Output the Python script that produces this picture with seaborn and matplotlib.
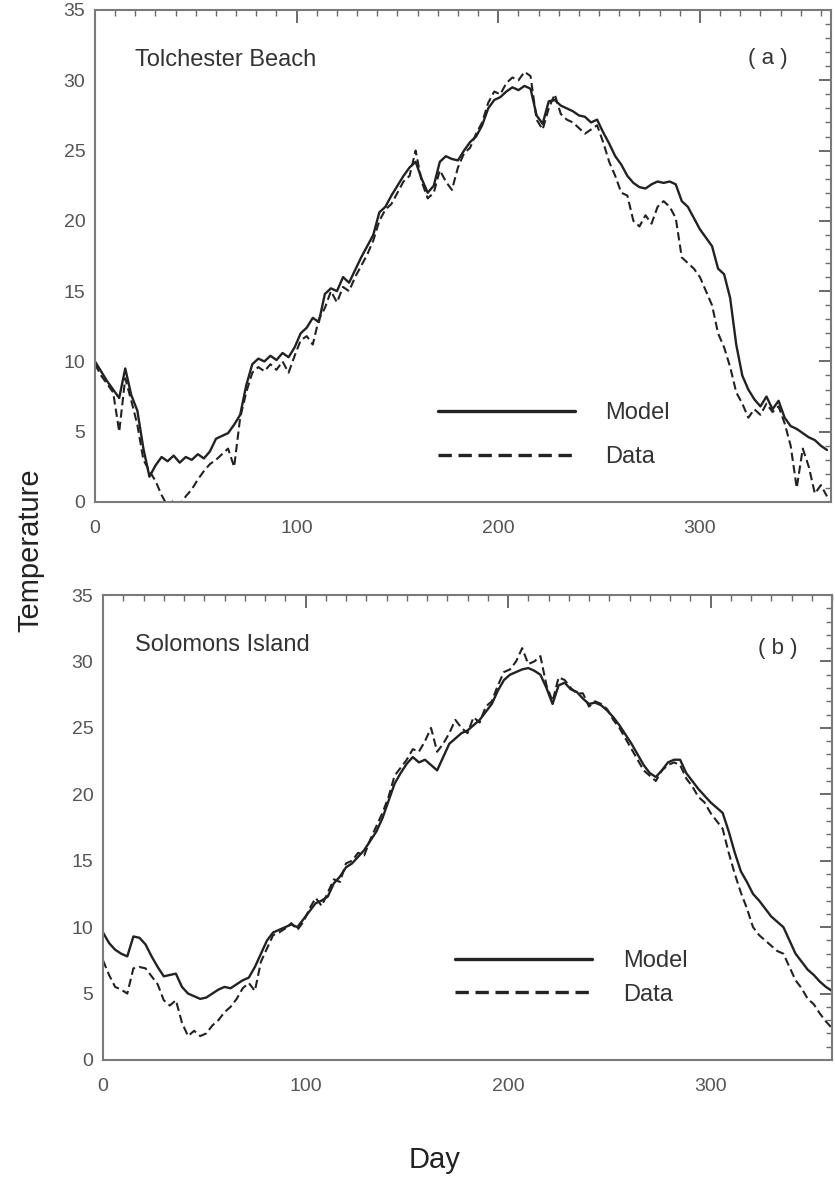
import numpy as np
import matplotlib
matplotlib.use("Agg")
import matplotlib.pyplot as plt
import seaborn as sns
from matplotlib.ticker import MultipleLocator

sns.set_style("white")
plt.rcParams['font.family'] = ['Liberation Sans', 'DejaVu Sans']

# ---------------- data (3-day sampling) ----------------
step_days = 3

tol_model = [10.0, 9.3, 8.6, 8.0, 7.4, 9.5, 7.6, 6.5, 3.8, 1.8,
             2.6, 3.2, 2.9, 3.3, 2.8, 3.2, 3.0, 3.4, 3.1, 3.6,
             4.5, 4.7, 4.9, 5.5, 6.2, 8.3, 9.8, 10.2, 10.0, 10.4,
             10.1, 10.6, 10.3, 11.0, 12.0, 12.4, 13.1, 12.8, 14.8, 15.2,
             15.0, 16.0, 15.6, 16.5, 17.4, 18.2, 19.0, 20.6, 21.0, 21.8,
             22.5, 23.2, 23.8, 24.2, 23.0, 22.0, 22.5, 24.2, 24.6, 24.4,
             24.3, 25.0, 25.6, 26.0, 26.8, 28.0, 28.6, 28.8, 29.2, 29.5,
             29.3, 29.6, 29.4, 27.5, 26.9, 28.5, 28.6, 28.2, 28.0, 27.8,
             27.5, 27.4, 27.0, 27.2, 26.3, 25.5, 24.6, 24.0, 23.2, 22.7,
             22.4, 22.3, 22.6, 22.8, 22.7, 22.8, 22.6, 21.4, 21.0, 20.2,
             19.4, 18.8, 18.2, 16.6, 16.2, 14.5, 11.2, 9.0, 8.0, 7.3,
             6.8, 7.5, 6.6, 7.2, 6.0, 5.4, 5.2, 4.9, 4.6, 4.4,
             4.0, 3.7]

tol_data = [9.8, 9.0, 8.4, 7.8, 5.0, 8.8, 7.2, 5.5, 3.0, 2.2,
            1.5, 0.5, -0.3, 0.1, -0.2, 0.4, 0.9, 1.6, 2.2, 2.7,
            3.0, 3.4, 3.8, 2.5, 6.0, 7.8, 9.2, 9.6, 9.3, 9.8,
            9.4, 10.0, 9.2, 10.4, 11.5, 11.8, 11.2, 13.0, 13.8, 15.0,
            14.2, 15.3, 15.0, 16.0, 16.8, 17.6, 18.6, 20.0, 20.8, 21.2,
            22.0, 22.8, 23.2, 25.0, 22.8, 21.6, 22.0, 23.6, 22.8, 22.2,
            23.8, 24.8, 25.2, 26.2, 27.0, 28.4, 29.2, 29.0, 29.8, 30.2,
            30.0, 30.6, 30.3, 27.2, 26.5, 28.0, 29.0, 27.6, 27.2, 27.0,
            26.6, 26.2, 26.5, 26.8, 25.6, 24.2, 23.2, 22.0, 21.8, 20.0,
            19.6, 20.4, 19.8, 21.0, 21.4, 21.0, 20.2, 17.4, 17.0, 16.6,
            16.0, 15.0, 14.0, 12.0, 11.0, 9.6, 7.8, 7.0, 6.0, 6.6,
            6.2, 7.0, 6.4, 6.8, 5.6, 4.0, 1.0, 3.8, 2.5, 0.6,
            1.2, 0.4]

sol_model = [9.6, 8.8, 8.3, 8.0, 7.8, 9.3, 9.2, 8.7, 7.8, 7.0,
             6.3, 6.4, 6.5, 5.5, 5.0, 4.8, 4.6, 4.7, 5.0, 5.3,
             5.5, 5.4, 5.7, 6.0, 6.2, 7.0, 8.0, 9.0, 9.6, 9.8,
             10.0, 10.2, 10.0, 10.6, 11.2, 11.8, 12.0, 12.3, 13.3, 13.8,
             14.5, 14.8, 15.3, 15.8, 16.5, 17.2, 18.2, 19.5, 20.8, 21.6,
             22.3, 22.8, 22.4, 22.6, 22.2, 21.8, 22.8, 23.8, 24.2, 24.6,
             24.8, 25.2, 25.6, 26.2, 26.8, 27.8, 28.6, 29.0, 29.2, 29.4,
             29.5, 29.3, 29.0, 28.0, 26.8, 28.2, 28.4, 27.9, 27.7, 27.2,
             26.8, 26.9, 26.7, 26.3, 25.8, 25.2, 24.5, 23.8, 23.0, 22.2,
             21.6, 21.3, 21.8, 22.4, 22.6, 22.6, 21.6, 21.0, 20.4, 19.9,
             19.4, 19.0, 18.6, 17.2, 15.6, 14.2, 13.4, 12.5, 12.0, 11.4,
             10.8, 10.4, 10.0, 9.0, 8.0, 7.4, 6.8, 6.4, 5.9, 5.5,
             5.2]

sol_data = [7.5, 6.4, 5.5, 5.3, 5.0, 6.9, 7.0, 6.9, 6.3, 5.7,
            4.5, 4.1, 4.5, 2.8, 1.8, 2.2, 1.8, 2.0, 2.6, 3.0,
            3.6, 4.0, 4.6, 5.4, 5.8, 5.2, 7.4, 8.4, 9.4, 9.6,
            9.9, 10.3, 9.8, 10.4, 11.4, 12.2, 11.6, 12.6, 13.6, 13.4,
            14.8, 15.0, 15.6, 15.4, 16.6, 17.6, 18.6, 19.8, 21.4, 22.0,
            22.6, 23.4, 23.2, 24.0, 25.0, 23.2, 23.8, 24.6, 25.6, 25.0,
            24.6, 25.8, 25.4, 26.6, 27.0, 28.2, 29.2, 29.4, 30.0, 31.0,
            29.8, 30.0, 30.4, 28.2, 27.0, 28.8, 28.6, 28.0, 27.6, 27.6,
            26.6, 27.0, 26.8, 26.4, 25.6, 25.0, 24.2, 23.4, 22.6, 21.8,
            21.4, 21.0, 21.8, 22.2, 22.4, 22.2, 21.2, 20.6, 19.8, 19.4,
            18.6, 18.0, 17.4, 15.6, 14.0, 12.6, 11.4, 10.0, 9.4, 9.0,
            8.6, 8.2, 8.0, 7.0, 6.0, 5.4, 4.6, 4.2, 3.5, 2.9,
            2.4]

panel_titles = ["Tolchester Beach", "Solomons Island"]
panel_tags = ["( a )", "( b )"]
series_labels = ["Model", "Data"]
y_ticks = [0, 5, 10, 15, 20, 25, 30, 35]
x_ticks = [0, 100, 200, 300]
x_limits = [365, 360]

# ---------------- figure ----------------
fig = plt.figure(figsize=(8.35, 11.92), dpi=100)
W, H = 835, 1192
boxes = [(95, 10, 831, 502), (103, 595, 832, 1060)]
line_col = "#222222"
tick_col = "#6a6a6a"
lab_col = "#555555"

panels = [(tol_model, tol_data), (sol_model, sol_data)]
legend_pos = [(0.466, 0.136, 0.95), (0.483, 0.177, 0.50)]
title_pos = [(0.054, 0.898), (0.044, 0.892)]
tag_pos = [(0.914, 0.902), (0.926, 0.886)]

for i, ((model, data), (l, t, r, b)) in enumerate(zip(panels, boxes)):
    ax = fig.add_axes([l / W, 1 - b / H, (r - l) / W, (b - t) / H])
    dm = np.arange(len(model)) * step_days
    dd = np.arange(len(data)) * step_days
    sns.lineplot(x=dm, y=model, ax=ax, color=line_col, lw=1.7,
                 label=series_labels[0], errorbar=None)
    sns.lineplot(x=dd, y=data, ax=ax, color=line_col, lw=1.5,
                 label=series_labels[1], errorbar=None)
    ax.lines[1].set_dashes((4, 2))
    ax.set_xlim(0, x_limits[i])
    ax.set_ylim(0, 35)
    ax.set_xticks(x_ticks)
    ax.set_yticks(y_ticks)
    ax.xaxis.set_minor_locator(MultipleLocator(10))
    ax.yaxis.set_minor_locator(MultipleLocator(1))
    ax.tick_params(which='both', direction='in', top=True, right=True,
                   color=tick_col, labelcolor=lab_col, labelsize=14)
    ax.tick_params(which='major', length=9, width=1.4)
    ax.tick_params(axis='y', which='major', pad=7)
    ax.tick_params(axis='x', which='major', pad=13)
    ax.tick_params(which='minor', length=4, width=1.0)
    for sp in ax.spines.values():
        sp.set_color("#7a7a7a")
        sp.set_linewidth(1.5)
    ax.set_xlabel("")
    ax.set_ylabel("")
    ax.text(title_pos[i][0], title_pos[i][1], panel_titles[i],
            transform=ax.transAxes, fontsize=17, color="#333333",
            ha='left', va='center')
    ax.text(tag_pos[i][0], tag_pos[i][1], panel_tags[i],
            transform=ax.transAxes, fontsize=16, color="#333333",
            ha='center', va='center')
    lx, ly, sp_ = legend_pos[i]
    leg = ax.legend(loc='center left', bbox_to_anchor=(lx, ly),
                    frameon=False, fontsize=17, handlelength=5.8,
                    handletextpad=1.3, labelspacing=sp_, borderpad=0,
                    borderaxespad=0)
    for h in leg.get_lines():
        h.set_linewidth(2.4)
    leg.get_lines()[1].set_dashes((4, 2))
    for tx in leg.get_texts():
        tx.set_color("#333333")

fig.text(30 / W, 1 - 550 / H, "Temperature", rotation=90, fontsize=21,
         ha='center', va='center', color="#222222")
fig.text(435 / W, 1 - 1160 / H, "Day", fontsize=21,
         ha='center', va='center', color="#222222")

fig.savefig("out.png", dpi=100)
